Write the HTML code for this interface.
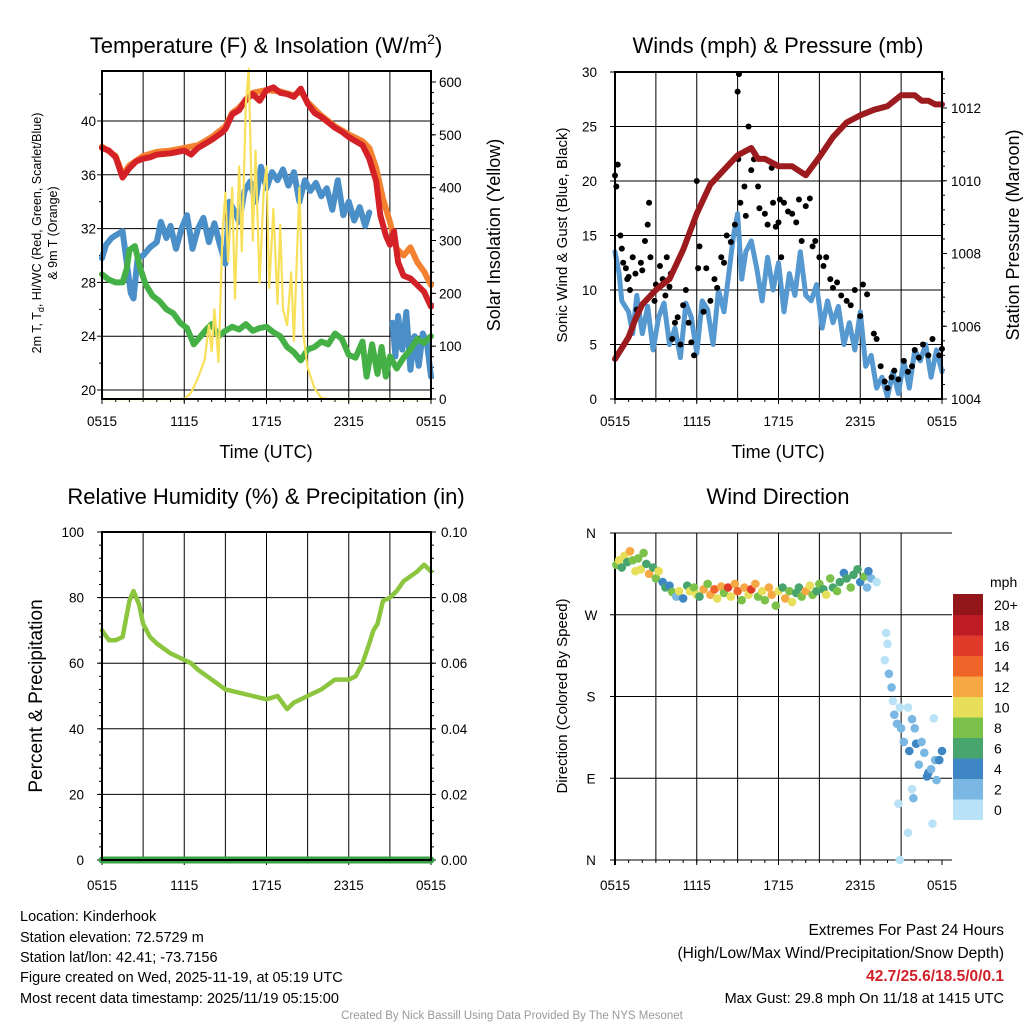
<!DOCTYPE html>
<html><head><meta charset="utf-8">
<style>
html,body{margin:0;padding:0;background:#fff;}
svg{display:block;font-family:"Liberation Sans",Arial,sans-serif;}
</style></head>
<body>
<svg id="chart" width="1024" height="1024" viewBox="0 0 1024 1024" xmlns="http://www.w3.org/2000/svg">
<rect width="1024" height="1024" fill="#fff"/>
<g id="p1"></g>
<g id="p2"></g>
<g id="p3"></g>
<g id="p4"></g>
<g font-size="14.5" fill="#000">
<text x="20" y="921">Location: Kinderhook</text>
<text x="20" y="942">Station elevation: 72.5729 m</text>
<text x="20" y="962">Station lat/lon: 42.41; -73.7156</text>
<text x="20" y="982">Figure created on Wed, 2025-11-19, at 05:19 UTC</text>
<text x="20" y="1003">Most recent data timestamp: 2025/11/19 05:15:00</text>
</g>
<g font-size="15.5" text-anchor="end">
<text x="1004" y="935">Extremes For Past 24 Hours</text>
<text x="1004" y="958">(High/Low/Max Wind/Precipitation/Snow Depth)</text>
<text x="1004" y="981" fill="#d0202a" font-weight="bold">42.7/25.6/18.5/0/0.1</text>
<text x="1004" y="1003" font-size="14.5">Max Gust: 29.8 mph On 11/18 at 1415 UTC</text>
</g>
<text x="512" y="1019" font-size="11.5" fill="#999" text-anchor="middle">Created By Nick Bassill Using Data Provided By The NYS Mesonet</text>
</svg>
<script>
// ---------- data ----------
const xTickLabels = ["0515","1115","1715","2315","0515"];
const tempTicks = [20,24,28,32,36,40];
const solarTicks = [0,100,200,300,400,500,600];
const windTicks = [0,5,10,15,20,25,30];
const presTicks = [1004,1006,1008,1010,1012];
const rhTicks = [0,20,40,60,80,100];
const precipTicks = ["0.00","0.02","0.04","0.06","0.08","0.10"];
const dirLabels = ["N","E","S","W","N"];
const speedLabels = ["0","2","4","6","8","10","12","14","16","18","20+"];
const speedColors = ["#b9e2f7","#7ab8e3","#3f87c4","#47a56d","#7cc24a","#e7df5a","#f6a844","#ef6429","#df3a2a","#bd1c25","#93161b"];

const tempRed = [[0,38],[0.5,37.8],[1,37.3],[1.5,35.8],[2,36.5],[2.5,37],[3,37.2],[3.5,37.3],[4,37.5],[5,37.6],[6,37.8],[6.5,37.5],[7,38],[8,38.6],[8.7,39.1],[9,39.4],[9.5,40.5],[10,40.8],[10.5,41.6],[11,42],[11.5,41.5],[12,42.3],[12.5,42.5],[13,42.1],[13.5,42],[14,41.8],[14.5,42.4],[15,41.3],[15.5,40.6],[16,40.3],[17,39.5],[17.5,39.2],[18,38.8],[18.5,38.5],[19,38.2],[19.5,37.2],[20,35.5],[20.3,33],[20.7,31.5],[21,30.8],[21.3,31.8],[21.6,29.5],[22,28.5],[22.5,28.3],[23,27.8],[23.5,27.3],[24,26.2]];
const tempOrange = [[0,38.1],[1,37.4],[1.5,36],[2,36.7],[3,37.4],[4,37.7],[5,37.8],[6,38],[7,38.2],[8,38.8],[9,39.6],[9.5,40.6],[10,41],[11,42.1],[12,42.3],[13,42.2],[14,41.9],[14.5,42.2],[15,41.4],[16,40.4],[17,39.6],[18,39],[19,38.5],[19.5,38],[20,36.5],[20.5,34.2],[21,32.5],[21.5,30.5],[22,30],[22.5,30.6],[23,29.5],[23.5,28.8],[24,27.8]];
const dewBlue = [[0,29.8],[0.3,30.8],[0.7,31.3],[1,31.5],[1.5,31.8],[1.8,29.5],[2.1,27.2],[2.3,26.8],[2.6,29.8],[3,30],[3.5,30.6],[4,31],[4.3,32.5],[4.7,31.3],[5,32.2],[5.4,30.5],[5.8,32],[6.2,33],[6.6,30.5],[7,32],[7.4,32.8],[7.8,31],[8.2,32.4],[8.6,30.8],[9,29.4],[9.3,34],[9.7,33.2],[10,32.5],[10.4,34.8],[10.8,35.5],[11.2,34],[11.6,36.6],[12,35],[12.4,36.2],[12.8,35.6],[13.2,36.4],[13.6,35.2],[14,36.2],[14.4,34],[14.8,35.6],[15.2,34.8],[15.6,35.4],[16,34.4],[16.4,35],[16.8,33.4],[17.2,35.6],[17.6,33],[18,34],[18.4,32.6],[18.8,33.6],[19.2,32.2],[19.5,33.2],null,[21.2,25],[21.4,22.5],[21.6,25.5],[21.9,23],[22.2,25.8],[22.5,21.5],[22.8,24],[23.1,21.8],[23.4,24.2],[23.7,23.5],[24,21]];
const hiWcGreen = [[0,28.6],[0.5,28.2],[1,28],[1.5,28],[1.8,29],[2,30.4],[2.4,30.7],[2.8,29],[3.2,27.8],[3.7,27],[4.2,26.6],[4.7,26],[5.2,25.7],[5.7,25],[6.2,24.6],[6.7,23.4],[7.2,24],[7.7,24.6],[8,24.9],[8.5,24],[9,24.4],[9.5,24.7],[10,24.5],[10.5,24.9],[11,24.4],[11.5,24.6],[12,24.7],[12.5,24.3],[13,24],[13.5,23.2],[14,22.8],[14.5,22.2],[15,23],[15.5,23.2],[16,23.6],[16.5,23.4],[17,24.2],[17.5,23.8],[18,22.6],[18.5,22.4],[19,23.6],[19.3,21],[19.7,23.4],[20.1,21.2],[20.4,23.2],[20.7,21],[21,22.5],[21.5,21.6],[22,22.4],[22.5,23],[23,23.8],[23.5,23.5],[24,24]];
const solar = [[0,0],[6,0],[6.5,12],[7,40],[7.5,75],[7.8,140],[8,90],[8.2,170],[8.5,70],[8.8,320],[9,390],[9.2,260],[9.5,400],[9.7,190],[10,440],[10.2,280],[10.5,560],[10.7,625],[11,300],[11.2,470],[11.5,220],[11.8,400],[12,440],[12.2,210],[12.5,360],[12.8,180],[13,330],[13.2,170],[13.5,140],[13.8,240],[14,110],[14.4,400],[14.7,120],[15,60],[15.5,20],[16,2],[16.5,0],[24,0]];

const windSpeed = [[0,13.5],[0.3,11.5],[0.5,9],[1,8],[1.3,6],[1.6,9.5],[2,6],[2.4,8.5],[2.8,4.5],[3.2,7.5],[3.6,8.8],[4,5],[4.4,6.5],[4.8,3.8],[5.2,8.8],[5.6,7.5],[6,4.2],[6.4,9],[6.8,8.2],[7.2,5],[7.6,10],[8,8],[8.4,12],[8.7,15],[9,17],[9.3,11],[9.6,13.5],[10,14.5],[10.4,12],[10.8,9],[11.2,13],[11.6,10],[12,12.5],[12.4,8],[12.8,11.5],[13.2,9.5],[13.6,13.5],[14,9.5],[14.4,9],[14.8,10.5],[15.2,6.5],[15.6,9],[16,7],[16.4,8.5],[16.8,5],[17.2,7],[17.6,4.5],[18,8],[18.4,3],[18.8,4],[19.2,1],[19.6,2],[20,0.2],[20.4,2.5],[20.8,0.5],[21.2,3.5],[21.6,1],[22,4.5],[22.4,3.5],[22.8,5],[23.2,2],[23.6,4.5],[24,2.5]];
const gusts = [[0,20.5],[0.1,19.5],[0.2,21.5],[0.4,15],[0.5,13.8],[0.6,12.5],[0.8,12],[0.9,11],[1,11.2],[1.1,10],[1.3,13],[1.5,11.5],[1.6,8.2],[1.9,12.5],[2,11.8],[2.2,14.5],[2.4,16],[2.5,18],[2.6,13],[2.9,9],[3,10.5],[3.3,12.2],[3.5,11],[3.7,9.5],[3.8,13],[4,10.3],[4.1,11.5],[4.2,5.5],[4.4,7],[4.6,7.5],[4.8,5],[5,8.6],[5.2,10],[5.4,7],[5.6,5.2],[5.8,4],[6,20],[6.1,12],[6.2,14],[6.5,8],[6.7,12],[7,9],[7.3,11],[7.5,10.2],[7.8,13],[8,12.5],[8.2,15],[8.5,14.4],[8.8,16],[9,28.2],[9.1,29.8],[9.05,22],[9.2,18],[9.5,19.5],[9.6,16.8],[9.8,25],[10,21],[10.2,22],[10.5,19.5],[10.6,17.5],[11,17],[11.2,16],[11.5,21.2],[11.6,18],[11.8,15.8],[12,16.2],[12.1,18.3],[12.2,13],[12.4,18],[12.7,17.2],[13,17],[13.3,16.2],[13.5,18.3],[13.7,14.5],[14,17.7],[14.3,18.4],[14.5,14],[14.7,14.5],[15,13],[15.3,12.2],[15.5,13],[15.8,11],[16,10.2],[16.3,10.7],[16.6,9.5],[17,9],[17.3,8.6],[17.6,10],[18,7.6],[18.2,10.5],[18.5,9.6],[19,6],[19.2,5.5],[19.5,3],[19.8,1.6],[20,1],[20.3,2],[20.5,2.6],[20.8,1.8],[21.2,3.5],[21.5,2.5],[21.8,3],[22,4.5],[22.3,3.8],[22.6,5],[23,4],[23.3,5.5],[23.8,4],[24,4.6]];
const pressure = [[0,1005.1],[0.5,1005.4],[1,1005.7],[1.5,1006.2],[2,1006.6],[3,1007],[4,1007.3],[5,1008.1],[6,1009.1],[7,1009.9],[8,1010.3],[9,1010.7],[10,1010.9],[10.5,1010.6],[11,1010.6],[12,1010.4],[13,1010.4],[14,1010.15],[15,1010.65],[16,1011.2],[17,1011.6],[18,1011.8],[19,1011.95],[20,1012.05],[21,1012.35],[22,1012.35],[22.5,1012.2],[23,1012.2],[23.5,1012.1],[24,1012.1]];

const rh = [[0,70],[0.5,67],[1,67],[1.5,68],[2,79],[2.3,82],[2.7,78],[3,72],[3.5,68],[4,66],[5,63],[6,61],[6.5,60],[7,58],[8,55],[9,52],[10,51],[11,50],[12,49],[12.8,50],[13.5,46],[14,48],[15,50],[16,52],[17,55],[18,55],[18.5,56],[19,60],[19.5,66],[19.8,70],[20.1,72],[20.5,79],[21,80],[21.5,82],[22,85],[23,88],[23.5,90],[24,88]];
const precip = [[0,0],[24,0]];

const dirObs = [[0.1,325,9],[0.3,330,11],[0.5,322,7],[0.7,335,10],[0.9,328,6],[1.1,340,12],[1.3,330,9],[1.5,318,11],[1.7,332,8],[1.9,320,10],[2.1,338,9],[2.3,326,7],[2.5,315,12],[2.8,322,6],[3,310,8],[3.2,318,11],[3.5,306,5],[3.7,300,7],[4,302,4],[4.2,295,9],[4.5,290,3],[4.7,296,10],[5,288,4],[5.3,302,6],[5.5,296,11],[5.8,300,8],[6,292,10],[6.2,290,7],[6.5,298,13],[6.8,304,9],[7,292,12],[7.3,298,14],[7.5,288,10],[7.8,301,12],[8,294,8],[8.3,300,16],[8.5,290,10],[8.8,304,12],[9,296,14],[9.3,286,9],[9.5,300,12],[9.8,292,10],[10,298,16],[10.3,304,12],[10.5,290,8],[10.8,296,10],[11,286,9],[11.3,300,13],[11.5,292,12],[11.8,280,9],[12,296,10],[12.3,300,7],[12.5,288,12],[12.8,296,9],[13,284,10],[13.3,294,7],[13.5,300,6],[13.7,290,9],[14,296,12],[14.3,302,10],[14.5,292,8],[14.8,296,7],[15,304,9],[15.3,298,6],[15.5,292,10],[15.8,310,8],[16,300,6],[16.3,296,9],[16.5,306,7],[16.8,316,5],[17,310,6],[17.3,300,8],[17.5,314,7],[17.8,320,6],[18,306,5],[18.3,312,8],[18.5,300,3],[18.8,310,2],[18.6,318,4],[19.2,306,1],[19.9,250,1],[20,238,1],[19.8,220,1],[20.1,205,2],[20.3,190,2],[20.4,175,1],[20.5,160,2],[20.7,150,3],[20.9,168,1],[21,145,2],[21.2,130,3],[21.5,168,1],[21.6,120,4],[21.8,155,2],[22,145,3],[22.1,128,4],[22.3,105,2],[22.5,130,3],[22.7,118,2],[22.9,92,4],[23,96,4],[23.2,100,3],[23.4,156,1],[23.5,110,2],[23.6,88,2],[23.8,110,4],[24,120,4],[21.9,68,2],[21.8,78,1],[20.8,62,1],[23.3,40,1],[21.5,30,1],[20.9,0,1]];

// ---------- helpers ----------
const NS="http://www.w3.org/2000/svg";
function el(parent, tag, attrs, txt){
  const e=document.createElementNS(NS,tag);
  for(const k in attrs) e.setAttribute(k,attrs[k]);
  if(txt!==undefined) e.textContent=txt;
  parent.appendChild(e);
  return e;
}
function lin(d0,d1,r0,r1){return v=>r0+(v-d0)*(r1-r0)/(d1-d0);}
function pathOf(data,xs,ys){
  let d="",pen=false;
  for(const p of data){
    if(!p){pen=false;continue;}
    d+=(pen?"L":"M")+xs(p[0]).toFixed(1)+","+ys(p[1]).toFixed(1);
    pen=true;
  }
  return d;
}
function frame(g,L,T,R,B,xs,off){
  for(let h=3;h<24;h+=3){
    const gl=el(g,"line",{x1:xs(h),x2:xs(h),y1:T,y2:B,stroke:"#000","stroke-width":1});
    
    
  }
  xTickLabels.forEach((t,i)=>{
    const tx=el(g,"text",{x:xs(i*6),y:B+off,"font-size":13.5,"text-anchor":"middle"},t);
    
    
    el(g,"line",{x1:xs(i*6),x2:xs(i*6),y1:B,y2:B+5,stroke:"#000"});
  });
  for(let h=1;h<24;h++) el(g,"line",{x1:xs(h),x2:xs(h),y1:B,y2:B+3,stroke:"#000"});
}
function border(g,L,T,R,B){
  const r=el(g,"rect",{x:L,y:T,width:R-L,height:B-T,fill:"none",stroke:"#000","stroke-width":2});
  
  
}
function hgrid(g,L,R,y){el(g,"line",{x1:L,x2:R,y1:y,y2:y,stroke:"#000","stroke-width":1});}
function series(g,data,xs,ys,color,w,name){
  const p=el(g,"path",{d:pathOf(data,xs,ys),fill:"none",stroke:color,"stroke-width":w,"stroke-linejoin":"round","stroke-linecap":"round"});
  
  
  return p;
}

// ---------- panel 1 ----------
(function(){
  const g=document.getElementById("p1");
  const L=102,R=431,T=71,B=399;
  const xs=lin(0,24,L,R), yT=lin(20,40,390,121), yS=lin(0,600,399,82);
  frame(g,L,T,R,B,xs,27);
  tempTicks.forEach(v=>{hgrid(g,L,R,yT(v));
    const t=el(g,"text",{x:L-6,y:yT(v)+5,"font-size":13.5,"text-anchor":"end"},v);
    
    
    el(g,"line",{x1:L-5,x2:L,y1:yT(v),y2:yT(v),stroke:"#000"});});
  for(let v=22;v<44;v+=4) el(g,"line",{x1:L-3,x2:L,y1:yT(v),y2:yT(v),stroke:"#000"});
  solarTicks.forEach(v=>{const t=el(g,"text",{x:R+8,y:yS(v)+5,"font-size":13.5},v);
    
    
    el(g,"line",{x1:R,x2:R+5,y1:yS(v),y2:yS(v),stroke:"#000"});});
  for(let v=20;v<620;v+=20) el(g,"line",{x1:R,x2:R+3,y1:yS(v),y2:yS(v),stroke:"#000"});
  series(g,tempOrange,xs,yT,"#f3812f",6,"temp-9m-line");
  series(g,tempRed,xs,yT,"#d42027",6,"temp-2m-line");
  series(g,dewBlue,xs,yT,"#4a8fc8",6,"dewpoint-line");
  series(g,hiWcGreen,xs,yT,"#45b045",6,"heat-index-windchill-line");
  series(g,solar,xs,yS,"#f8e05a",2.2,"solar-insolation-line");
  border(g,L,T,R,B);
  const ti=el(g,"text",{x:266,y:53,"font-size":22,"text-anchor":"middle"});
  
  
  ti.innerHTML='Temperature (F) &amp; Insolation (W/m<tspan dy="-9" font-size="14">2</tspan><tspan dy="9">)</tspan>';
  const xt=el(g,"text",{x:266,y:458,"font-size":18,"text-anchor":"middle"},"Time (UTC)");
  
  
  const yt=el(g,"text",{transform:"translate(41,233) rotate(-90)","font-size":12.5,"text-anchor":"middle"});
  
  
  yt.innerHTML='2m T, T<tspan dy="3" font-size="9">d</tspan><tspan dy="-3">, HI/WC (Red, Green, Scarlet/Blue)</tspan>';
  const yt2=el(g,"text",{transform:"translate(57,233) rotate(-90)","font-size":12.5,"text-anchor":"middle"},"& 9m T (Orange)");
  
  
  const yr=el(g,"text",{transform:"translate(500,235) rotate(-90)","font-size":18,"text-anchor":"middle"},"Solar Insolation (Yellow)");
  
  
})();

// ---------- panel 2 ----------
(function(){
  const g=document.getElementById("p2");
  const L=615,R=942,T=72,B=399;
  const xs=lin(0,24,L,R), yW=lin(0,30,399,72), yP=lin(1004,1012,399,108);
  frame(g,L,T,R,B,xs,27);
  windTicks.forEach(v=>{hgrid(g,L,R,yW(v));
    const t=el(g,"text",{x:L-18,y:yW(v)+5,"font-size":13.5,"text-anchor":"end"},v);
    
    
    el(g,"line",{x1:L-5,x2:L,y1:yW(v),y2:yW(v),stroke:"#000"});});
  presTicks.forEach(v=>{const t=el(g,"text",{x:R+9,y:yP(v)+5,"font-size":13.5},v);
    
    
    el(g,"line",{x1:R,x2:R+5,y1:yP(v),y2:yP(v),stroke:"#000"});});
  for(let v=1004.4;v<1013;v+=0.4) el(g,"line",{x1:R,x2:R+3,y1:yP(v),y2:yP(v),stroke:"#000"});
  series(g,windSpeed,xs,yW,"#5698d0",5,"sonic-wind-line");
  gusts.forEach(p=>{const c=el(g,"circle",{cx:xs(p[0]),cy:yW(p[1]),r:3,fill:"#000"});
    
    });
  series(g,pressure,xs,yP,"#9b1b1e",6,"pressure-line");
  border(g,L,T,R,B);
  const ti=el(g,"text",{x:778,y:53,"font-size":22,"text-anchor":"middle"},"Winds (mph) & Pressure (mb)");
  
  
  const xt=el(g,"text",{x:778,y:458,"font-size":18,"text-anchor":"middle"},"Time (UTC)");
  
  
  const yt=el(g,"text",{transform:"translate(567,235) rotate(-90)","font-size":15,"text-anchor":"middle"},"Sonic Wind & Gust (Blue, Black)");
  
  
  const yr=el(g,"text",{transform:"translate(1019,235) rotate(-90)","font-size":18,"text-anchor":"middle"},"Station Pressure (Maroon)");
  
  
})();

// ---------- panel 3 ----------
(function(){
  const g=document.getElementById("p3");
  const L=102,R=431,T=532,B=860;
  const xs=lin(0,24,L,R), yR=lin(0,100,860,532), yPr=lin(0,0.1,860,532);
  frame(g,L,T,R,B,xs,30);
  rhTicks.forEach((v,i)=>{hgrid(g,L,R,yR(v));
    const t=el(g,"text",{x:L-18,y:yR(v)+5,"font-size":13.5,"text-anchor":"end"},v);
    
    
    el(g,"line",{x1:L-5,x2:L,y1:yR(v),y2:yR(v),stroke:"#000"});
    const t2=el(g,"text",{x:R+10,y:yR(v)+5,"font-size":13.5},precipTicks[i]);
    
    
    el(g,"line",{x1:R,x2:R+5,y1:yR(v),y2:yR(v),stroke:"#000"});});
  for(let v=4;v<100;v+=4) {el(g,"line",{x1:L-3,x2:L,y1:yR(v),y2:yR(v),stroke:"#000"});el(g,"line",{x1:R,x2:R+3,y1:yR(v),y2:yR(v),stroke:"#000"});}
  series(g,rh,xs,yR,"#8cc63f",4.5,"relative-humidity-line");
  series(g,precip,xs,yPr,"#3aa047",7,"precipitation-line");
  border(g,L,T,R,B);
  const ti=el(g,"text",{x:266,y:504,"font-size":22,"text-anchor":"middle"},"Relative Humidity (%) & Precipitation (in)");
  
  
  const yt=el(g,"text",{transform:"translate(42,696) rotate(-90)","font-size":19,"text-anchor":"middle"},"Percent & Precipitation");
  
  
})();

// ---------- panel 4 ----------
(function(){
  const g=document.getElementById("p4");
  const L=615,R=942,T=533,B=860;
  const xs=lin(0,24,L,R), yD=lin(0,360,860,533);
  frame(g,L,T,R,B,xs,30);
  el(g,"line",{x1:L,x2:L,y1:T,y2:B+5,stroke:"#000","stroke-width":2});
  dirLabels.forEach((lab,i)=>{const v=i*90;hgrid(g,L-5,R+10,yD(v));
    const t=el(g,"text",{x:L-24,y:yD(v)+5,"font-size":13.5,"text-anchor":"middle"},lab);
    
    });
  dirObs.forEach(p=>{const bin=Math.min(10,Math.floor(p[2]/2));
    const c=el(g,"circle",{cx:xs(p[0]),cy:yD(p[1]),r:4.3,fill:speedColors[bin]});
    
    });
  const ti=el(g,"text",{x:778,y:504,"font-size":22,"text-anchor":"middle"},"Wind Direction");
  
  
  const yt=el(g,"text",{transform:"translate(567,696) rotate(-90)","font-size":15,"text-anchor":"middle"},"Direction (Colored By Speed)");
  
  
  const cb=el(g,"g",{});
  
  
  const cbT=594,cbH=20.5;
  const ut=el(cb,"text",{x:990,y:587,"font-size":14},"mph");
  
  
  speedColors.forEach((c,i)=>{const y=cbT+(10-i)*cbH;
    const r=el(cb,"rect",{x:953,y:y,width:30,height:cbH+0.5,fill:c});
    
    
    const t=el(cb,"text",{x:994,y:y+16,"font-size":14},speedLabels[i]);
    
    });
})();
</script>
</body></html>
